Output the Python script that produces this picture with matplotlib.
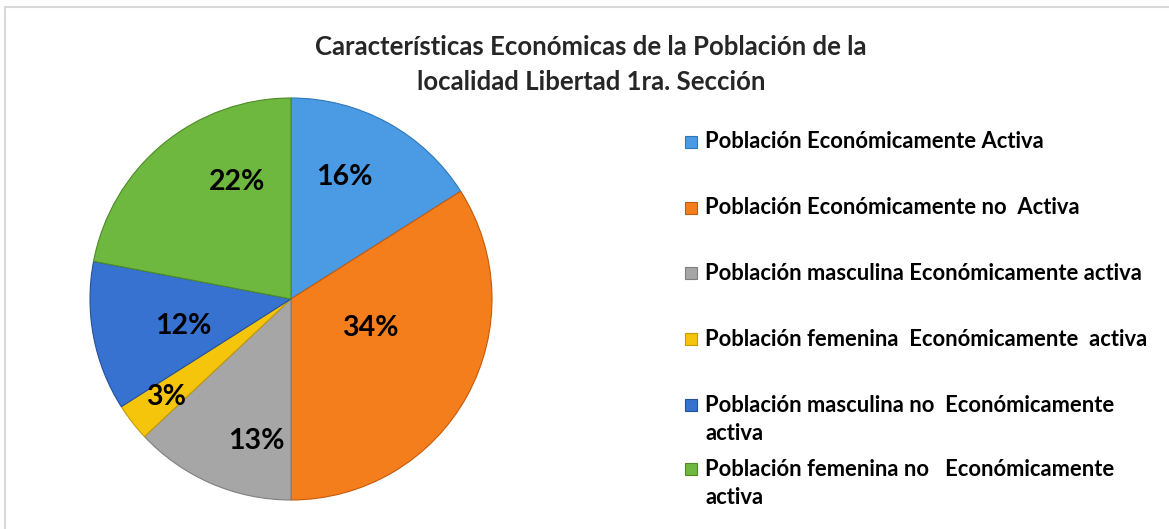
import matplotlib
matplotlib.use("Agg")
import matplotlib.pyplot as plt
from matplotlib.patches import Rectangle
import numpy as np

plt.rcParams['font.family'] = ['Lato', 'DejaVu Sans']

title_lines = ["Características Económicas de la Población de la",
               "localidad Libertad 1ra. Sección"]
categories = [
    "Población Económicamente Activa",
    "Población Económicamente no  Activa",
    "Población masculina Económicamente activa",
    "Población femenina  Económicamente  activa",
    "Población masculina no  Económicamente\nactiva",
    "Población femenina no   Económicamente\nactiva",
]
values = [16, 34, 13, 3, 12, 22]
colors = ["#4a9be3", "#f57e1c", "#a6a6a6", "#f5c50c", "#3872d0", "#6fb83f"]
edge_colors = ["#2f78b8", "#c65a0a", "#7f7f7f", "#c69a00", "#24509c", "#4d8a26"]

# label placement (style): radial distance and angular shift in degrees
label_dist = [0.66, 0.42, 0.73, 0.79, 0.55, 0.64]
label_shift = [5.3, 8.8, 9.6, 0.1, 3.2, -14.6]

W, H = 1169, 529
fig = plt.figure(figsize=(W / 100, H / 100), dpi=100)
fig.patch.set_facecolor("white")

# chart border (top/left visible)
fig.patches.append(Rectangle((4.5 / W, -0.1), 1.2, (H - 7.5) / H + 0.1,
                             transform=fig.transFigure, fill=False,
                             edgecolor="#d9d9d9", linewidth=1.5))

cx, cy, r = 291, 299, 201
ax = fig.add_axes([(cx - r) / W, (H - cy - r) / H, 2 * r / W, 2 * r / H])

wedges, _ = ax.pie(values, colors=colors, startangle=90, counterclock=False,
                   radius=1, wedgeprops=dict(linewidth=0.8))
ax.set_xlim(-1, 1)
ax.set_ylim(-1, 1)
ax.axis("off")
for w, ec in zip(wedges, edge_colors):
    w.set_edgecolor(ec)

total = sum(values)
for w, v, d, s in zip(wedges, values, label_dist, label_shift):
    ang = np.deg2rad((w.theta1 + w.theta2) / 2 + s)
    ax.text(d * np.cos(ang), d * np.sin(ang), f"{round(100 * v / total)}%",
            ha="center", va="center", fontsize=20.5, fontweight="bold", color="black")

fig.text(591 / W, 1 - 47 / H, title_lines[0], ha="center", va="center",
         fontsize=18.5, fontweight="bold", color="#262626")
fig.text(591 / W, 1 - 82 / H, title_lines[1], ha="center", va="center",
         fontsize=18.5, fontweight="bold", color="#262626")

row_y = [142, 208, 273, 339, 405, 469]
line_gap = 28
for lab, col, ec, y in zip(categories, colors, edge_colors, row_y):
    fig.patches.append(Rectangle((685 / W, 1 - (y + 6) / H), 12 / W, 12 / H,
                                 transform=fig.transFigure, facecolor=col,
                                 edgecolor=ec, linewidth=0.8))
    for i, part in enumerate(lab.split("\n")):
        fig.text(705 / W, 1 - (y + i * line_gap) / H, part, ha="left", va="center",
                 fontsize=15.8, fontweight="bold", color="black")

fig.savefig("out.png", dpi=100)
